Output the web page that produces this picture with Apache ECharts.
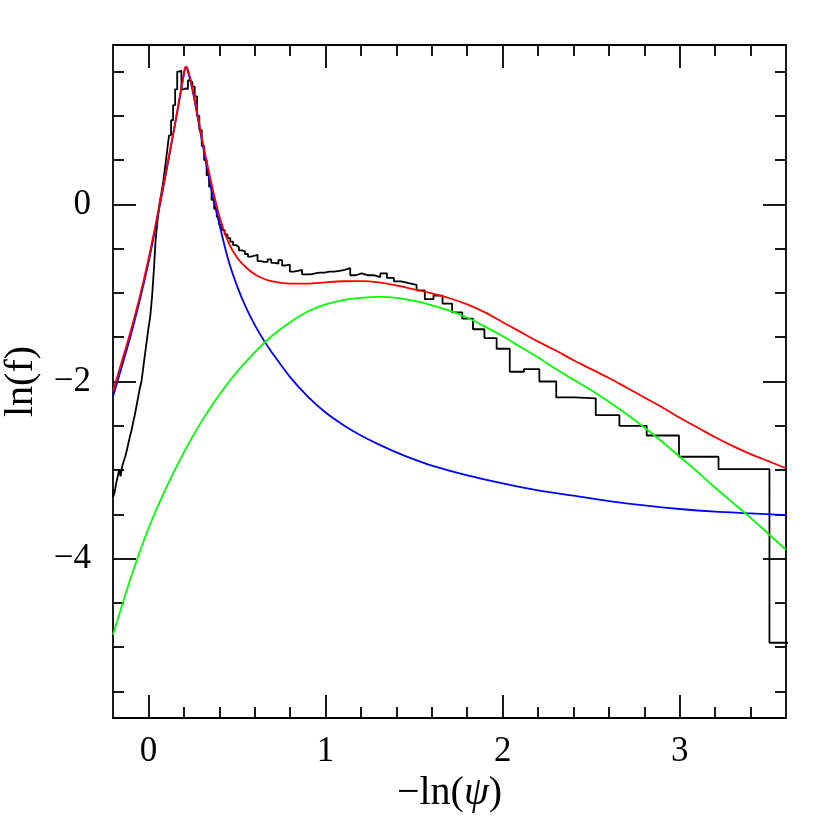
<!DOCTYPE html>
<html><head><meta charset="utf-8">
<script src="https://cdn.jsdelivr.net/npm/echarts@6/dist/echarts.min.js"></script>
<style>html,body{margin:0;padding:0;background:#fff}#c{width:830px;height:830px}</style>
</head><body><div id="c"></div>
<script>
// ---- histogram: bin edges in psi (uniform 0.01 bins), heights ln(f) per bin ----
const psiEdges = [
1.23,1.22,1.21,1.20,1.19,1.18,1.17,1.16,1.15,1.14,
1.13,1.12,1.11,1.10,1.09,1.08,1.07,1.06,1.05,1.04,
1.03,1.02,1.01,1.00,0.99,0.98,0.97,0.96,0.95,0.94,
0.93,0.92,0.91,0.90,0.89,0.88,0.87,0.86,0.85,0.84,
0.83,0.82,0.81,0.80,0.79,0.78,0.77,0.76,0.75,0.74,
0.73,0.72,0.71,0.70,0.69,0.68,0.67,0.66,0.65,0.64,
0.63,0.62,0.61,0.60,0.59,0.58,0.57,0.56,0.55,0.54,
0.53,0.52,0.51,0.50,0.49,0.48,0.47,0.46,0.45,0.44,
0.43,0.42,0.41,0.40,0.39,0.38,0.37,0.36,0.35,0.34,
0.33,0.32,0.31,0.30,0.29,0.28,0.27,0.26,0.25,0.24,
0.23,0.22,0.21,0.20,0.19,0.18,0.17,0.16,0.15,0.14,
0.13,0.12,0.11,0.10,0.09,0.08,0.07,0.06,0.05,0.04,
0.03,0.02];
const histLnF = [
-3.22,-3.30,-3.25,-3.15,-3.08,-3.00,-3.07,-2.96,-2.90,-2.85,
-2.78,-2.70,-2.62,-2.55,-2.46,-2.38,-2.28,-2.18,-2.08,-2.00,
-1.85,-1.70,-1.55,-1.40,-1.27,-1.05,-0.75,-0.40,-0.18,0.00,
0.12,0.25,0.42,0.60,0.78,0.95,1.12,1.30,1.50,1.51,
1.30,1.31,1.30,1.40,1.38,1.33,1.22,1.00,0.84,0.66,
0.50,0.33,0.20,0.05,-0.05,-0.14,-0.23,-0.29,-0.34,-0.38,
-0.42,-0.46,-0.48,-0.52,-0.53,-0.56,-0.59,-0.58,-0.57,-0.64,
-0.65,-0.65,-0.62,-0.66,-0.67,-0.63,-0.69,-0.68,-0.76,-0.75,
-0.74,-0.79,-0.79,-0.78,-0.77,-0.77,-0.76,-0.76,-0.75,-0.74,
-0.72,-0.80,-0.78,-0.80,-0.80,-0.82,-0.78,-0.83,-0.87,-0.89,
-0.91,-0.97,-1.07,-1.03,-1.12,-1.22,-1.29,-1.41,-1.51,-1.63,
-1.89,-1.86,-2.00,-2.18,-2.19,-2.38,-2.50,-2.61,-2.85,-2.99,
-4.95];

// ---- model curves ----
const blueX = [-0.2,-0.15,-0.1,-0.05,0,0.05,0.1,0.15,0.18,0.2,0.21,0.22,0.25,0.3,0.35,0.4,0.45,0.5,0.55,0.6,0.65,0.7,0.8,0.9,1.0,1.1,1.2,1.3,1.4,1.5,1.6,1.8,2.0,2.2,2.4,2.6,2.8,3.0,3.2,3.4,3.6];
const blueY = [-2.17,-1.83,-1.48,-1.09,-0.66,-0.16,0.36,0.90,1.24,1.47,1.55,1.52,1.28,0.74,0.22,-0.22,-0.62,-0.92,-1.16,-1.36,-1.53,-1.68,-1.95,-2.17,-2.35,-2.49,-2.61,-2.71,-2.80,-2.88,-2.95,-3.06,-3.15,-3.23,-3.29,-3.35,-3.40,-3.44,-3.47,-3.49,-3.51];

const greenX = [-0.2,-0.1,0,0.1,0.2,0.3,0.4,0.5,0.6,0.7,0.8,0.9,1.0,1.1,1.2,1.3,1.4,1.5,1.6,1.7,1.8,1.9,2.0,2.1,2.2,2.3,2.4,2.5,2.6,2.7,2.8,2.9,3.0,3.1,3.2,3.3,3.4,3.5,3.6];
const greenY = [-4.86,-4.22,-3.66,-3.20,-2.80,-2.45,-2.15,-1.89,-1.67,-1.48,-1.33,-1.21,-1.13,-1.08,-1.055,-1.045,-1.055,-1.09,-1.14,-1.20,-1.28,-1.38,-1.49,-1.61,-1.73,-1.86,-1.98,-2.10,-2.23,-2.37,-2.52,-2.68,-2.85,-3.02,-3.20,-3.37,-3.54,-3.72,-3.90];

const redX = [-0.2,-0.15,-0.1,-0.05,0,0.05,0.1,0.15,0.18,0.2,0.21,0.22,0.25,0.3,0.35,0.4,0.45,0.5,0.55,0.6,0.65,0.7,0.8,0.9,1.0,1.1,1.2,1.3,1.4,1.5,1.6,1.7,1.8,1.9,2.0,2.1,2.2,2.3,2.4,2.5,2.6,2.7,2.8,2.9,3.0,3.1,3.2,3.3,3.4,3.5,3.6];
const redY = [-2.11,-1.77,-1.43,-1.05,-0.62,-0.13,0.38,0.91,1.25,1.47,1.555,1.54,1.30,0.77,0.29,-0.13,-0.42,-0.60,-0.71,-0.79,-0.84,-0.87,-0.895,-0.895,-0.88,-0.868,-0.866,-0.88,-0.915,-0.96,-1.005,-1.06,-1.13,-1.22,-1.33,-1.44,-1.55,-1.65,-1.76,-1.86,-1.96,-2.07,-2.18,-2.29,-2.41,-2.52,-2.63,-2.73,-2.82,-2.90,-2.98];

// ---- axes ticks / labels ----
const xMajor = [0, 1, 2, 3];
const xMinor = [0.2,0.4,0.6,0.8,1.2,1.4,1.6,1.8,2.2,2.4,2.6,2.8,3.2,3.4];
const yMajor = [0, -2, -4];
const yMinor = [1.5,1,0.5,-0.5,-1,-1.5,-2.5,-3,-3.5,-4.5,-5,-5.5];
const xRange = [-0.2, 3.6];
const yRange = [-5.8, 1.8];

const FONT = 'Liberation Serif';
const fmt = v => v < 0 ? '\u2212' + (-v) : String(v);

function pairs(xs, ys) { return xs.map((x, i) => [x, ys[i]]); }
function histPath() {
  const pts = [];
  for (let i = 0; i < histLnF.length; i++) {
    const x0 = -Math.log(psiEdges[i]), x1 = -Math.log(psiEdges[i + 1]);
    pts.push([x0, histLnF[i]], [x1, histLnF[i]]);
  }
  return pts;
}

const lineCol = '#000';
function xAxisDef(pos, ticks, len, withLabel, withLine) {
  return {
    type: 'value', min: xRange[0], max: xRange[1], position: pos,
    axisLine: { show: withLine, onZero: false, lineStyle: { color: lineCol, width: 1.8 } },
    axisTick: { show: true, inside: true, length: len, customValues: ticks, lineStyle: { color: lineCol, width: 1.8 } },
    axisLabel: { show: withLabel, customValues: ticks, formatter: fmt, margin: 16,
      fontFamily: FONT, fontSize: 35, color: '#000' },
    splitLine: { show: false }
  };
}
function yAxisDef(pos, ticks, len, withLabel, withLine) {
  return {
    type: 'value', min: yRange[0], max: yRange[1], position: pos,
    axisLine: { show: withLine, onZero: false, lineStyle: { color: lineCol, width: 1.8 } },
    axisTick: { show: true, inside: true, length: len, customValues: ticks, lineStyle: { color: lineCol, width: 1.8 } },
    axisLabel: { show: withLabel, customValues: ticks, formatter: fmt, margin: 22,
      fontFamily: FONT, fontSize: 35, color: '#000' },
    splitLine: { show: false }
  };
}

const xAxes = [
  xAxisDef('bottom', xMajor, 23, true, true),
  xAxisDef('bottom', xMinor, 11, false, false),
  xAxisDef('top', xMajor, 23, false, true),
  xAxisDef('top', xMinor, 11, false, false)
];
Object.assign(xAxes[0], {
  name: '{n|\u2212ln(}{i|\u03C8}{n|)}', nameLocation: 'middle', nameGap: 50,
  nameTextStyle: { rich: {
    n: { fontFamily: FONT, fontSize: 40, color: '#000' },
    i: { fontFamily: FONT, fontSize: 40, fontStyle: 'italic', color: '#000' } } }
});
const yAxes = [
  yAxisDef('left', yMajor, 23, true, true),
  yAxisDef('left', yMinor, 11, false, false),
  yAxisDef('right', yMajor, 23, false, true),
  yAxisDef('right', yMinor, 11, false, false)
];
Object.assign(yAxes[0], {
  name: 'ln(f)', nameLocation: 'middle', nameGap: 72,
  nameTextStyle: { fontFamily: FONT, fontSize: 40, color: '#000' }
});

function lineSeries(data, color, smooth) {
  return { type: 'line', data, showSymbol: false, smooth, clip: true, silent: true,
    lineStyle: { color, width: 1.8 }, xAxisIndex: 0, yAxisIndex: 0 };
}

const chart = echarts.init(document.getElementById('c'), null, { renderer: 'canvas' });
chart.setOption({
  animation: false,
  backgroundColor: '#fff',
  grid: { left: 113, top: 45, right: 44, bottom: 112, containLabel: false, outerBoundsMode: 'none' },
  xAxis: xAxes,
  yAxis: yAxes,
  series: [
    lineSeries(histPath(), '#000', false),
    lineSeries(pairs(blueX, blueY), '#0000ff', 0.3),
    lineSeries(pairs(greenX, greenY), '#00ff00', 0.3),
    lineSeries(pairs(redX, redY), '#ff0000', 0.3)
  ]
});
</script></body></html>
